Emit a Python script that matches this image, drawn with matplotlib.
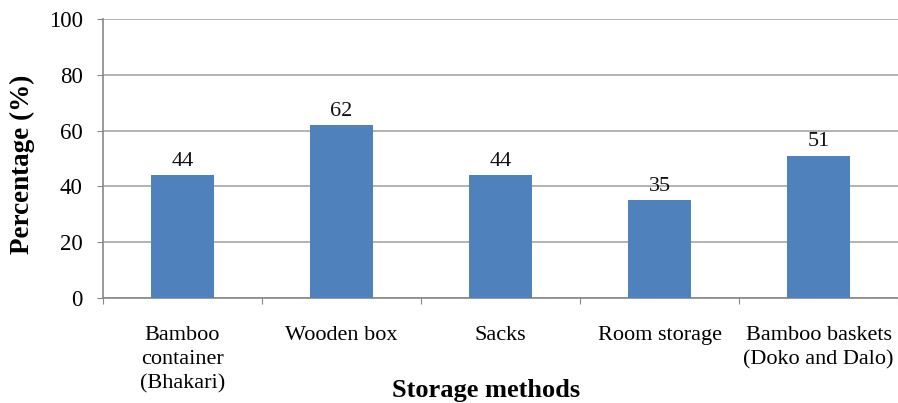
import matplotlib
matplotlib.use("Agg")
import matplotlib.pyplot as plt

categories = ["Bamboo\ncontainer\n(Bhakari)", "Wooden box", "Sacks",
              "Room storage", "Bamboo baskets\n(Doko and Dalo)"]
values = [44, 62, 44, 35, 51]
y_ticks = [0, 20, 40, 60, 80, 100]

plt.rcParams["font.family"] = ["Liberation Serif", "DejaVu Serif"]

W, H = 898, 403
fig = plt.figure(figsize=(W / 100, H / 100), dpi=100)
left, right, top, bottom = 103, 898, 19, 298
ax = fig.add_axes([left / W, 1 - bottom / H, (right - left) / W, (bottom - top) / H])

x = list(range(len(categories)))
bars = ax.bar(x, values, width=0.39, color="#4F81BD", zorder=3)
for xi, v in zip(x, values):
    ax.text(xi, v + 1.6, f"{v}", ha="center", va="bottom", fontsize=16, color="#111111")

# category slots are 160 px wide; the last slot runs just past the right edge
ax.set_xlim(-0.5, -0.5 + (right - left) / 160)
ax.set_ylim(0, 100)
ax.set_yticks(y_ticks)
ax.tick_params(axis="y", labelsize=16.5, length=4.5, color="#888888", pad=10)

ax.set_xticks([i + 0.5 for i in range(-1, len(categories))])
ax.set_xticklabels([])
ax.set_xticks(x, minor=True)
ax.set_xticklabels(categories, minor=True, fontsize=16, linespacing=1.38)
ax.tick_params(axis="x", which="major", length=4.5, color="#888888")
ax.tick_params(axis="x", which="minor", length=0, pad=20)

ax.grid(axis="y", color="#A6A6A6", linewidth=1.2, zorder=0)
for s in ["top", "right"]:
    ax.spines[s].set_visible(False)
for s in ["left", "bottom"]:
    ax.spines[s].set_color("#888888")
    ax.spines[s].set_linewidth(1.2)

fig.text(22 / W, 1 - 164 / H, "Percentage (%)", rotation=90, ha="center", va="center",
         fontsize=19.5, fontweight="bold")
fig.text(486 / W, 1 - 391 / H, "Storage methods", ha="center", va="center",
         fontsize=19, fontweight="bold")

fig.savefig("out.png", dpi=100)
